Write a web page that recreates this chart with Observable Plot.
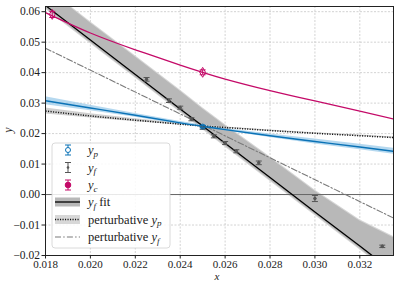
<!DOCTYPE html>
<html><head><meta charset="utf-8">
<script src="https://cdn.jsdelivr.net/npm/d3@7"></script>
<script src="https://cdn.jsdelivr.net/npm/@observablehq/plot@0.6"></script>
<style>body{margin:0;background:#fff} svg{display:block}</style>
</head><body><div id="chart"></div>
<script>
// ---- data ----
const xTicks = [0.018, 0.020, 0.022, 0.024, 0.026, 0.028, 0.030, 0.032];
const yTicks = [-0.02, -0.01, 0.00, 0.01, 0.02, 0.03, 0.04, 0.05, 0.06];

const curveX  = [0.018, 0.020, 0.022, 0.024, 0.025, 0.026, 0.028, 0.030, 0.032, 0.0335];
// y_p model curve and band
const ypLine  = [0.0308, 0.0284, 0.0260, 0.0235, 0.0224, 0.0213, 0.0193, 0.0174, 0.0156, 0.0142];
const ypLow   = [0.0295, 0.0275, 0.0254, 0.0230, 0.0220, 0.0209, 0.0187, 0.0166, 0.0147, 0.0132];
const ypHigh  = [0.0321, 0.0293, 0.0266, 0.0240, 0.0228, 0.0217, 0.0199, 0.0182, 0.0165, 0.0152];
// y_c curve
const ycLine  = [0.0597, 0.0530, 0.0475, 0.0425, 0.0401, 0.0379, 0.0341, 0.0307, 0.0274, 0.0248];
// perturbative y_p (dotted) and its band
const pypLine = [0.0274, 0.0258, 0.0244, 0.0231, 0.0225, 0.0220, 0.0210, 0.0201, 0.0193, 0.0187];
const pypLow  = [0.0264, 0.0251, 0.0239, 0.0228, 0.0223, 0.0218, 0.0208, 0.0199, 0.0191, 0.0185];
const pypHigh = [0.0284, 0.0265, 0.0249, 0.0234, 0.0227, 0.0222, 0.0212, 0.0203, 0.0195, 0.0189];
// y_f fit line and band
const fitLine = [0.0620, 0.0507, 0.0394, 0.0281, 0.0225, 0.0168, 0.0056, -0.0057, -0.0169, -0.0254];
const fitLow  = [0.0612, 0.0499, 0.0386, 0.0273, 0.0217, 0.0160, 0.0048, -0.0065, -0.0177, -0.0262];
const fitHigh = [0.0678, 0.0563, 0.0451, 0.0339, 0.0281, 0.0226, 0.0120, 0.0011, -0.0087, -0.0142];
// perturbative y_f (dash-dot)
const pyfX = [0.018, 0.0335];
const pyfY = [0.0480, -0.0077];

// data points with errors
const yfX   = [0.0225, 0.0235, 0.0240, 0.0245, 0.0250, 0.0255, 0.0260, 0.0265, 0.0275, 0.0300, 0.0330];
const yfY   = [0.0378, 0.0308, 0.0285, 0.0247, 0.0219, 0.0191, 0.0169, 0.0142, 0.0104, -0.0013, -0.0170];
const yfErr = [0.0006, 0.0006, 0.0005, 0.0005, 0.0005, 0.0005, 0.0005, 0.0005, 0.0006, 0.0010, 0.0004];
const ycX   = [0.0183, 0.0250];
const ycY   = [0.0591, 0.0401];
const ycErr = [0.0010, 0.0008];
const ypX   = [0.0250];
const ypY   = [0.0223];
const ypErr = [0.0004];

// ---- build tables ----
const curves = curveX.map((x, i) => ({x, ypLine: ypLine[i], ypLow: ypLow[i], ypHigh: ypHigh[i],
  yc: ycLine[i], pyp: pypLine[i], pypLow: pypLow[i], pypHigh: pypHigh[i],
  fit: fitLine[i], fitLow: fitLow[i], fitHigh: fitHigh[i]}));
const pyf = pyfX.map((x, i) => ({x, y: pyfY[i]}));
const pts = (xs, ys, es) => xs.map((x, i) => ({x, y: ys[i], lo: ys[i] - es[i], hi: ys[i] + es[i]}));
const yf = pts(yfX, yfY, yfErr), yc = pts(ycX, ycY, ycErr), yp = pts(ypX, ypY, ypErr);

const cap = {draw(ctx, size) { const w = Math.sqrt(size / Math.PI); ctx.moveTo(-w, 0); ctx.lineTo(w, 0); }};

const BLUE = "#0a72b6", MAG = "#c40a68", GREY = "#555555";
const FONT = "'Liberation Serif', 'DejaVu Serif', serif";
const DOTS = "1.1,1.4", DASHDOT = "6,2.2,1.5,2.2";

function errMarks(data, color, sym, r, fill) {
  return [
    Plot.ruleX(data, {x: "x", y1: "lo", y2: "hi", stroke: color, strokeWidth: 1}),
    Plot.dot(data, {x: "x", y: "lo", symbol: cap, r: 3, stroke: color, strokeWidth: 1}),
    Plot.dot(data, {x: "x", y: "hi", symbol: cap, r: 3, stroke: color, strokeWidth: 1}),
    Plot.dot(data, {x: "x", y: "y", symbol: sym, r, stroke: color, fill, strokeWidth: 1})
  ];
}

const plot = Plot.plot({
  width: 397, height: 283,
  marginLeft: 45, marginRight: 4, marginTop: 6, marginBottom: 28,
  style: {fontFamily: FONT, fontSize: "11px", color: "#222", background: "#fff"},
  x: {domain: [0.018, 0.0335]},
  y: {domain: [-0.02, 0.0617]},
  marks: [
    Plot.gridX(xTicks, {stroke: "#c8c8c8", strokeOpacity: 1, strokeDasharray: "2,1.5", strokeWidth: 0.8}),
    Plot.gridY(yTicks, {stroke: "#c8c8c8", strokeOpacity: 1, strokeDasharray: "2,1.5", strokeWidth: 0.8}),
    // bands
    Plot.areaY(curves, {x: "x", y1: d => d.fitLow - 0.0004, y2: d => d.fitHigh + 0.0004, fill: "#d6d6d6", clip: true}),
    Plot.areaY(curves, {x: "x", y1: "fitLow", y2: "fitHigh", fill: "#b8b8b8", clip: true}),
    Plot.areaY(curves, {x: "x", y1: "pypLow", y2: "pypHigh", fill: "#d0d0d0", clip: true}),
    Plot.areaY(curves, {x: "x", y1: "ypLow", y2: "ypHigh", fill: "#9ccbea", fillOpacity: 0.75, clip: true}),
    Plot.ruleY([0], {stroke: "#666", strokeWidth: 1}),
    // lines
    Plot.line(pyf, {x: "x", y: "y", stroke: "#7a7a7a", strokeWidth: 1.1, strokeDasharray: DASHDOT, clip: true}),
    Plot.line(curves, {x: "x", y: "pyp", stroke: "#111", strokeWidth: 1.5, strokeDasharray: DOTS, strokeLinecap: "butt", curve: "natural", clip: true}),
    Plot.line(curves, {x: "x", y: "ypLine", stroke: BLUE, strokeWidth: 1.4, curve: "natural", clip: true}),
    Plot.line(curves, {x: "x", y: "fit", stroke: "#000", strokeWidth: 1.3, clip: true}),
    Plot.line(curves, {x: "x", y: "yc", stroke: MAG, strokeWidth: 1.3, curve: "natural", clip: true}),
    // points
    ...errMarks(yf, GREY, "circle", 1.3, GREY),
    ...errMarks(yp, BLUE, "circle", 2.5, "none"),
    ...errMarks(yc, MAG, "diamond", 3, "none"),
    Plot.frame({stroke: "#222", strokeWidth: 1}),
    Plot.axisX({ticks: xTicks, tickFormat: d3.format(".3f"), tickSize: 3.5, tickPadding: 1.5, label: null, stroke: "#222", fontSize: 11, fontFamily: FONT}),
    Plot.axisY({ticks: yTicks, tickFormat: d3.format(".2f"), tickSize: 3.5, tickPadding: 2, label: null, stroke: "#222", fontSize: 11.5, fontFamily: FONT})
  ]
});
document.getElementById("chart").appendChild(plot);

// ---- axis labels and legend ----
const svg = d3.select(plot);
svg.append("text").attr("x", 217).attr("y", 280.3).attr("text-anchor", "middle")
  .attr("font-family", FONT).attr("font-size", 11).attr("font-style", "italic").attr("fill", "#222").text("x");
svg.append("text").attr("transform", "translate(12,130) rotate(-90)").attr("text-anchor", "middle")
  .attr("font-family", FONT).attr("font-size", 12).attr("font-style", "italic").attr("fill", "#222").text("y");

const lg = svg.append("g").attr("font-family", FONT).attr("font-size", 12.5).attr("fill", "#222").attr("text-anchor", "start");
lg.append("rect").attr("x", 52).attr("y", 143).attr("width", 118).attr("height", 105).attr("rx", 3)
  .attr("fill", "#fff").attr("fill-opacity", 0.85).attr("stroke", "#d0d0d0").attr("stroke-width", 0.8);

const rows = [150, 167.5, 185, 202, 219.5, 237];
const hx0 = 55, hx1 = 80, hc = 68;
function errHandle(y, color, kind) {
  lg.append("line").attr("x1", hc).attr("x2", hc).attr("y1", y - 5).attr("y2", y + 5).attr("stroke", color);
  lg.append("line").attr("x1", hc - 3).attr("x2", hc + 3).attr("y1", y - 5).attr("y2", y - 5).attr("stroke", color);
  lg.append("line").attr("x1", hc - 3).attr("x2", hc + 3).attr("y1", y + 5).attr("y2", y + 5).attr("stroke", color);
  if (kind === "open") lg.append("circle").attr("cx", hc).attr("cy", y).attr("r", 2.5).attr("fill", "#fff").attr("stroke", color);
  else if (kind === "small") lg.append("circle").attr("cx", hc).attr("cy", y).attr("r", 1.3).attr("fill", color);
  else lg.append("circle").attr("cx", hc).attr("cy", y).attr("r", 2.8).attr("fill", color).attr("stroke", color);
}
errHandle(rows[0], BLUE, "open");
errHandle(rows[1], GREY, "small");
errHandle(rows[2], MAG, "filled");
lg.append("rect").attr("x", hx0).attr("y", rows[3] - 4.5).attr("width", hx1 - hx0).attr("height", 9).attr("fill", "#b8b8b8");
lg.append("line").attr("x1", hx0).attr("x2", hx1).attr("y1", rows[3]).attr("y2", rows[3]).attr("stroke", "#000").attr("stroke-width", 1.3);
lg.append("rect").attr("x", hx0).attr("y", rows[4] - 4.5).attr("width", hx1 - hx0).attr("height", 9).attr("fill", "#d8d8d8");
lg.append("line").attr("x1", hx0).attr("x2", hx1).attr("y1", rows[4]).attr("y2", rows[4]).attr("stroke", "#111").attr("stroke-width", 1.5).attr("stroke-dasharray", DOTS);
lg.append("line").attr("x1", hx0).attr("x2", hx1).attr("y1", rows[5]).attr("y2", rows[5]).attr("stroke", "#7a7a7a").attr("stroke-width", 1.1).attr("stroke-dasharray", DASHDOT);

function label(y, prefix, sub, suffix) {
  const t = lg.append("text").attr("x", 88).attr("y", y + 4).attr("text-anchor", "start");
  if (prefix) t.append("tspan").text(prefix);
  t.append("tspan").attr("font-style", "italic").text("y");
  t.append("tspan").attr("font-style", "italic").attr("font-size", 9).attr("dy", 2.5).text(sub);
  if (suffix) t.append("tspan").attr("dy", -2.5).text(suffix);
}
label(rows[0], "", "p", "");
label(rows[1], "", "f", "");
label(rows[2], "", "c", "");
label(rows[3], "", "f", " fit");
label(rows[4], "perturbative ", "p", "");
label(rows[5], "perturbative ", "f", "");
</script></body></html>
